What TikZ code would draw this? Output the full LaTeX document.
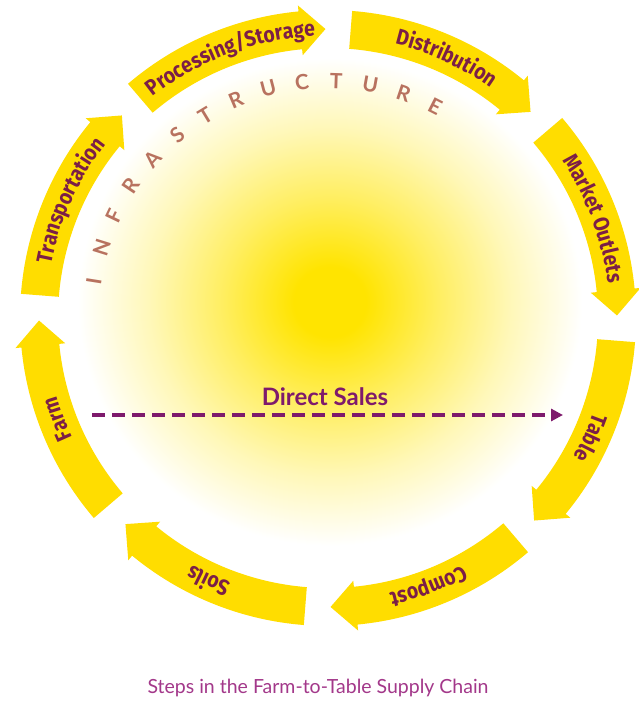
\documentclass[tikz,border=0pt]{standalone}
\usepackage{fontspec}
\usetikzlibrary{arrows.meta, decorations.text, positioning, calc}
\usepackage{xcolor}
\newfontfamily\stepfont{Fira Sans}[FakeStretch=0.88]
\newfontfamily\capfont{Lato}
\definecolor{Sun}{HTML}{FFDD00}
\definecolor{Glow}{HTML}{FFE400}
\definecolor{StepInk}{HTML}{7B1F47}
\definecolor{Infra}{HTML}{B8725F}
\definecolor{Sales}{HTML}{7E1A6C}
\definecolor{Caption}{HTML}{A3388A}
\pgfdeclareradialshading{sunglow}{\pgfpoint{0bp}{0bp}}{color(0bp)=(Glow); color(3bp)=(Glow); color(9bp)=(Glow!62!white); color(15bp)=(Glow!28!white); color(21bp)=(white); color(50bp)=(white)}

\begin{document}
\begin{tikzpicture}[
            x=1pt, y=1pt,
            ringarrow/.style={fill=Sun, draw=none},
            infra/.style={font=\capfont\fontsize{21}{21}\selectfont, text=Infra, inner sep=0pt},
            sales/.style={font=\capfont\bfseries\fontsize{24}{24}\selectfont, text=Sales},
            salesarrow/.style={line width=4.5pt, color=Sales, dash pattern=on 12.5pt off 7.5pt, -{Triangle[length=12pt, width=12pt]}},
            caption/.style={font=\capfont\fontsize{19.5}{19.5}\selectfont, text=Caption}
        ]
            \fill[white] (0,0) rectangle (639,707);
            \useasboundingbox (0,0) rectangle (639,707);

            % Glow in the middle
            \shade[shading=sunglow] (330,405) ellipse [x radius=300, y radius=290];

            \begin{scope}[shift={(328,389)}]
                % Ring of steps, clockwise
                \stepfont\bfseries\fontsize{22}{22}\selectfont
                \foreach \step [count=\i] in {Processing/Storage, Distribution, Market Outlets, Table, Compost, Soils, Farm, Transportation} {
                    \pgfmathsetmacro{\tail}{130.5-45*(\i-1)}
                    \pgfmathsetmacro{\tip}{\tail-40}
                    \pgfmathsetmacro{\neck}{\tip+5}
                    \fill[ringarrow] (\tail:270) arc[start angle=\tail, end angle=\neck, radius=270]
                        -- (\neck:264) -- (\tip:289) -- (\neck:314) -- (\neck:308)
                        arc[start angle=\neck, end angle=\tail, radius=308] -- cycle;
                    \path[decorate, decoration={text along path, text align=center, text color=StepInk, text/.expand once=\step}]
                        (\tail:282) arc[start angle=\tail, end angle=\tip, radius=282];
                }

                % Curved label
                \foreach \ch [count=\j from 0] in {I,N,F,R,A,S,T,R,U,C,T,U,R,E} {
                    \pgfmathsetmacro{\ang}{171-8.3*\j}
                    \node[infra, rotate=\ang-90] (infra\j) at (\ang:237) {\ch};
                }
            \end{scope}

            % Direct sales shortcut
            \coordinate (salesstart) at (92,292);
            \coordinate (salesend) at (563,292);
            \draw[salesarrow] (salesstart) -- (salesend);
            \node[sales] (sales) at (325,310) {Direct Sales};

            \node[caption, anchor=base] (caption) at (318,13) {Steps in the Farm-to-Table Supply Chain};
        \end{tikzpicture}
\end{document}
